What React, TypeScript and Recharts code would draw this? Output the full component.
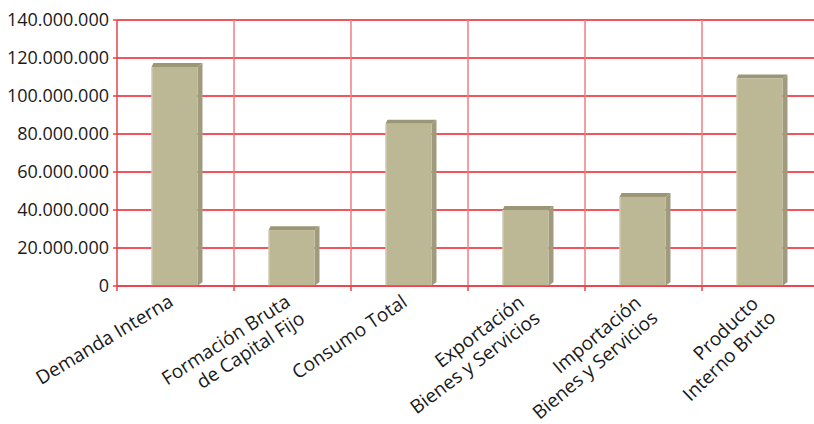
import { BarChart, Bar, XAxis, YAxis, CartesianGrid } from "recharts"

const categories = [
  "Demanda Interna",
  "Formación Bruta\nde Capital Fijo",
  "Consumo Total",
  "Exportación\nBienes y Servicios",
  "Importación\nBienes y Servicios",
  "Producto\nInterno Bruto",
]
const values = [115300000, 29400000, 85400000, 40000000, 46900000, 109200000]
const yTicks = [0, 20000000, 40000000, 60000000, 80000000, 100000000, 120000000, 140000000]

const data = categories.map((name, i) => ({ name, value: values[i] }))

// the source labels get steeper towards the right
const LABEL_ANGLES = [-31, -33, -34, -37, -40, -44]

const FRONT = "#bcb795"
const SIDE = "#a09b7c"
const TOP = "#9b9675"
const HGRID = "#ee1c25"
const VGRID = "#f27d84"
const AXIS = "#e8424b"
const FONT = "'Open Sans', sans-serif"

const CHART_W = 830
const CHART_H = 424
const MARGIN = { top: 20, right: 11, left: 0, bottom: 0 }
const Y_W = 117
const BAND = (CHART_W - MARGIN.left - MARGIN.right - Y_W) / categories.length

const fmt = (v: number) => v.toString().replace(/\B(?=(\d{3})+(?!\d))/g, ".")

function Bar3D(props: any) {
  const { y, width, height } = props
  if (height <= 0) return null
  const x = props.x - 1.5
  const d = 5
  const e = 4
  return (
    <g>
      <polygon
        points={`${x + width},${y} ${x + width + d},${y - e} ${x + width + d},${y + height - e} ${x + width},${y + height}`}
        fill={SIDE}
      />
      <polygon
        points={`${x},${y} ${x + 2},${y - e} ${x + width + d},${y - e} ${x + width},${y}`}
        fill={TOP}
      />
      <rect x={x} y={y} width={width} height={height} fill={FRONT} />
      <line x1={x + 0.5} y1={y} x2={x + 0.5} y2={y + height} stroke="#d8d4bd" strokeWidth={1} />
    </g>
  )
}

function CategoryTick(props: any) {
  const { x, y, payload, index } = props
  const lines = String(payload.value).split("\n")
  const angle = LABEL_ANGLES[index] ?? -33
  return (
    <g>
      <line x1={x - BAND / 2} y1={y - 8} x2={x - BAND / 2} y2={y - 3} stroke={AXIS} strokeWidth={1.5} />
      <g transform={`translate(${x - 1},${y + 11}) rotate(${angle})`}>
        <text textAnchor="end" fontFamily={FONT} fontSize={19} fill="#1a1a1a">
          {lines.map((l, i) => (
            <tspan key={i} x={i * 3} y={i * 22}>
              {l}
            </tspan>
          ))}
        </text>
      </g>
    </g>
  )
}

export default function App() {
  return (
    <div style={{ position: "absolute", left: 0, top: 0, width: 814, height: 424, overflow: "hidden", background: "#fff" }}>
      <BarChart width={CHART_W} height={CHART_H} data={data} margin={MARGIN} barSize={46}>
        <CartesianGrid
          stroke={HGRID}
          strokeWidth={1.5}
          horizontal={true}
          vertical={false}
        />
        <CartesianGrid
          stroke={VGRID}
          strokeWidth={1.5}
          horizontal={false}
          verticalCoordinatesGenerator={({ offset }: any) =>
            categories.slice(1).map((_, i) => offset.left + (i + 1) * (offset.width / categories.length))
          }
        />
        <XAxis
          dataKey="name"
          interval={0}
          height={CHART_H - 286}
          tickLine={false}
          axisLine={{ stroke: AXIS, strokeWidth: 1.5 }}
          tick={<CategoryTick />}
        />
        <YAxis
          width={Y_W}
          domain={[0, 140000000]}
          ticks={yTicks}
          interval={0}
          tickFormatter={fmt}
          tickSize={4}
          tickMargin={4}
          axisLine={{ stroke: AXIS, strokeWidth: 1.5 }}
          tickLine={{ stroke: AXIS, strokeWidth: 1.5 }}
          tick={{ fontFamily: FONT, fontSize: 18, fill: "#1a1a1a" }}
        />
        <Bar dataKey="value" shape={<Bar3D />} isAnimationActive={false} />
      </BarChart>
    </div>
  )
}
